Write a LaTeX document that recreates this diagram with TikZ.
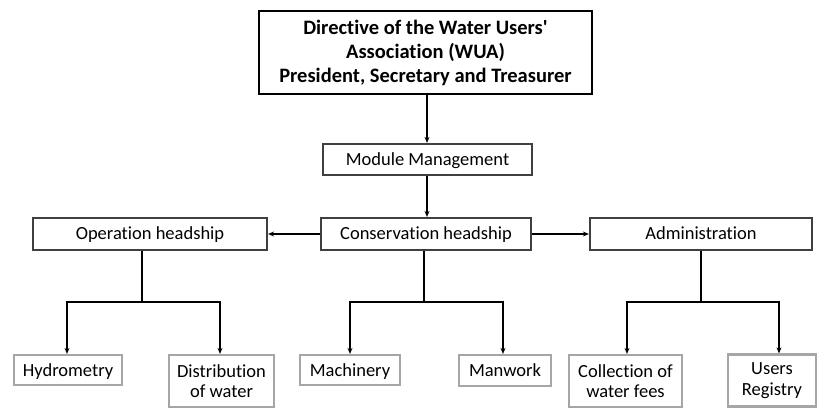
\documentclass[tikz,border=0pt]{standalone}
\usepackage{fontspec}
\setmainfont{Carlito}[Ligatures={NoCommon,NoContextual},RawFeature={-liga;-clig;-dlig}]
\newcommand{\apos}{\XeTeXglyph\XeTeXcharglyph"0027\relax}
\usetikzlibrary{arrows.meta}
\definecolor{midgray}{HTML}{404040}
\definecolor{lightgray}{HTML}{A6A6A6}
\begin{document}
\begin{tikzpicture}[x=1pt,y=-1pt,
  headbox/.style={draw=black,line width=2.6pt,fill=white,inner sep=0pt,align=center,
    font=\fontsize{20.5}{24}\selectfont\bfseries},
  unitbox/.style={draw=midgray,line width=2.2pt,fill=white,inner sep=0pt,align=center,
    font=\fontsize{18.5}{20.5}\selectfont},
  taskbox/.style={draw=lightgray,line width=2.2pt,fill=white,inner sep=0pt,align=center,
    font=\fontsize{18.5}{20.5}\selectfont},
  oneline/.style={text height=12pt,text depth=0pt},
  link/.style={draw=black,line width=1.3pt},
  arr/.style={link,-{Stealth[length=6pt,width=5pt]}}]
\useasboundingbox (0,0) rectangle (820,409);

% governing body and its management module
\node[headbox,minimum width=333pt,minimum height=83pt] (wua) at (425.5,52.5)
  {Directive of the Water Users\apos\\Association (WUA)\\President, Secretary and Treasurer};
\node[unitbox,oneline,minimum width=209pt,minimum height=31pt] (mod) at (427.5,159.5) {Module Management};

% headships
\node[unitbox,oneline,minimum width=234pt,minimum height=32pt] (oper) at (150,234) {Operation headship};
\node[unitbox,oneline,minimum width=210pt,minimum height=32pt] (cons) at (426,234) {Conservation headship};
\node[unitbox,oneline,minimum width=222pt,minimum height=32pt] (admin) at (701,234) {Administration};

% tasks
\node[taskbox,oneline,minimum width=108pt,minimum height=30pt] (hydro) at (68,370) {Hydrometry};
\node[taskbox,minimum width=105pt,minimum height=52pt] (distr) at (221.5,381) {Distribution\\of water};
\node[taskbox,oneline,minimum width=100pt,minimum height=30pt] (mach) at (350,370) {Machinery};
\node[taskbox,oneline,minimum width=92pt,minimum height=31pt] (manw) at (505,370.5) {Manwork};
\node[taskbox,minimum width=113pt,minimum height=52pt] (coll) at (625.5,381) {Collection of\\water fees};
\node[taskbox,minimum width=88pt,minimum height=52pt] (reg) at (772,380.5) {Users\\Registry};

% branch points
\coordinate (jo) at (142,302);
\coordinate (jc) at (424,302);
\coordinate (ja) at (701,302);
\coordinate (tw) at (427,0);

% vertical chain
\draw[arr] (wua.south -| tw) -- (mod.north -| tw);
\draw[arr] (mod.south -| tw) -- (cons.north -| tw);

% side branches
\draw[arr] (cons.west) -- (oper.east);
\draw[arr] (cons.east) -- (admin.west);

% trees below each headship
\draw[link] (oper.south -| jo) -- (jo);
\draw[arr] (jo) -| (hydro.north -| 67,0);
\draw[arr] (jo) -| (distr.north -| 220,0);

\draw[link] (cons.south -| jc) -- (jc);
\draw[arr] (jc) -| (mach.north);
\draw[arr] (jc) -| (manw.north -| 503,0);

\draw[link] (admin.south) -- (ja);
\draw[arr] (ja) -| (coll.north -| 627,0);
\draw[arr] (ja) -| (reg.north -| 779,0);
\end{tikzpicture}
\end{document}
